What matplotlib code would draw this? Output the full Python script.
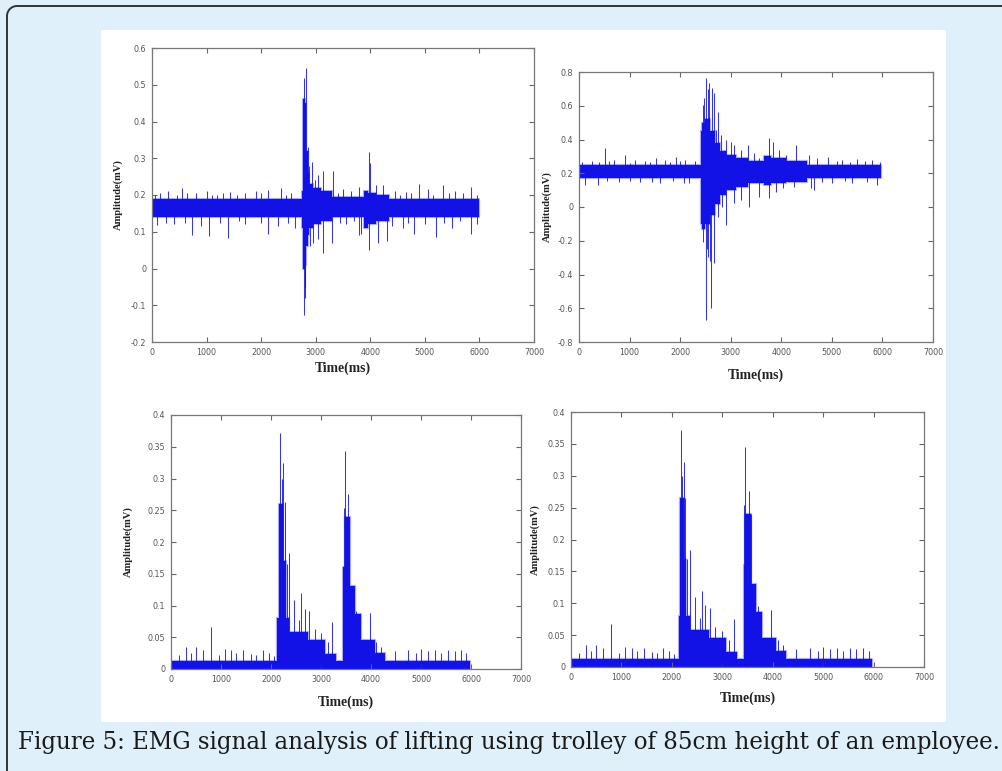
import matplotlib
matplotlib.use("Agg")
import matplotlib.pyplot as plt
from matplotlib.patches import Rectangle, Arc
from matplotlib import font_manager

# ---------------- data ----------------
# Top-left panel
tl_base = 0.165
tl_core_t = [0, 2740, 2775, 2800, 2830, 2850, 2880, 2950, 3100, 3300, 3880, 3960, 4100, 4350, 5995]
tl_core_hi = [0.19, 0.21, 0.46, 0.45, 0.32, 0.26, 0.23, 0.22, 0.21, 0.195, 0.21, 0.205, 0.20, 0.19]
tl_core_lo = [0.14, 0.11, 0.00, 0.01, 0.06, 0.09, 0.11, 0.12, 0.13, 0.14, 0.11, 0.12, 0.13, 0.14]
tl_spike_t = [554, 1426, 2127, 2370, 3790, 4899, 5326, 5844, 4106, 4229, 4655,
              150, 300, 800, 1000, 1200, 1700, 1900, 2550, 3500, 3650, 4450, 5050, 5550, 5700,
              60, 450, 650, 1100, 1300, 1550, 2000, 2450, 3400, 4550, 4750, 5150, 5450, 5950,
              2779, 2828, 2937, 3040, 3132, 3315, 2992, 3985, 4003, 2858, 2880,
              85, 725, 1048, 1395, 2127, 2614, 3802, 5204, 5844, 4808, 4594,
              400, 900, 1700, 2300, 3550, 4400, 5000, 5500, 5950,
              250, 600, 1250, 1600, 2000, 2500, 3450, 3700, 4700, 5350, 5650,
              2779, 2810, 2800, 2888, 3132, 3302, 3040, 3833, 3985, 4137, 4302, 2950]
tl_spike_v = [0.218, 0.209, 0.214, 0.218, 0.223, 0.230, 0.226, 0.223, 0.228, 0.228, 0.209,
              0.205, 0.21, 0.205, 0.21, 0.20, 0.205, 0.21, 0.205, 0.215, 0.21, 0.21, 0.215, 0.21, 0.205,
              0.20, 0.20, 0.205, 0.20, 0.205, 0.20, 0.205, 0.20, 0.205, 0.20, 0.205, 0.20, 0.205, 0.20,
              0.518, 0.545, 0.291, 0.255, 0.264, 0.264, 0.24, 0.318, 0.287, 0.33, 0.28,
              0.118, 0.092, 0.088, 0.082, 0.095, 0.109, 0.091, 0.087, 0.095, 0.095, 0.109,
              0.12, 0.115, 0.12, 0.115, 0.12, 0.115, 0.12, 0.11, 0.12,
              0.125, 0.125, 0.125, 0.13, 0.125, 0.125, 0.125, 0.13, 0.125, 0.125, 0.13,
              -0.127, -0.079, -0.05, 0.06, 0.041, 0.069, 0.08, 0.095, 0.05, 0.07, 0.075, 0.07]

# Top-right panel
tr_base = 0.21
tr_core_t = [0, 2420, 2440, 2500, 2600, 2680, 2780, 2900, 3100, 3350, 3650, 3800, 4100, 4500, 5980]
tr_core_hi = [0.25, 0.45, 0.50, 0.52, 0.45, 0.38, 0.33, 0.31, 0.29, 0.27, 0.30, 0.29, 0.27, 0.25]
tr_core_lo = [0.17, -0.10, -0.13, -0.10, -0.05, 0.02, 0.07, 0.10, 0.12, 0.14, 0.13, 0.14, 0.15, 0.17]
tr_spike_t = [518, 900, 1526, 1921, 250, 700, 1100, 1300, 1700, 2100, 2300,
              60, 400, 600, 1000, 1400, 1800, 2000, 5100, 5350, 5650, 5950,
              2448, 2481, 2514, 2560, 2580, 2633, 2666, 2712, 2745, 2811, 2909, 3008, 3074,
              3206, 3338, 3469, 3568, 3766, 3831, 3963, 4292, 4556, 4918, 5200, 5500, 5800, 4700, 4100,
              110, 374, 2086, 2185, 800, 1200, 1600, 5000, 5400, 5900,
              550, 1000, 1450, 1850, 4800, 5250, 5700,
              2448, 2514, 2560, 2613, 2679, 2530, 2590, 2745, 2909, 3074, 3206, 3370, 3568,
              3766, 3897, 4029, 4260, 4589, 4655, 2820]
tr_spike_v = [0.348, 0.308, 0.288, 0.298, 0.27, 0.28, 0.28, 0.275, 0.28, 0.28, 0.27,
              0.265, 0.265, 0.27, 0.26, 0.265, 0.265, 0.27, 0.27, 0.265, 0.27, 0.265,
              0.605, 0.644, 0.762, 0.70, 0.733, 0.703, 0.674, 0.456, 0.56, 0.427, 0.40, 0.387, 0.368,
              0.338, 0.368, 0.318, 0.288, 0.407, 0.387, 0.338, 0.368, 0.308, 0.298, 0.28, 0.285, 0.28, 0.29, 0.31,
              0.13, 0.13, 0.144, 0.14, 0.15, 0.15, 0.145, 0.14, 0.145, 0.13,
              0.155, 0.155, 0.15, 0.155, 0.15, 0.155, 0.15,
              -0.205, -0.670, -0.294, -0.600, -0.334, -0.25, -0.32, -0.057, -0.107, 0.022, 0.042, 0.002, 0.062,
              0.052, 0.091, 0.111, 0.121, 0.111, 0.101, 0.0]

# Bottom-left panel
bl_base = 0.0
bl_core_t = [0, 2120, 2150, 2240, 2290, 2350, 2740, 3070, 3300, 3440, 3470, 3570, 3670, 3800, 4070, 4270, 5975]
bl_core_hi = [0.012, 0.08, 0.26, 0.17, 0.08, 0.058, 0.045, 0.024, 0.012, 0.16, 0.24, 0.13, 0.087, 0.046, 0.025, 0.013]
bl_spike_t = [307, 507, 640, 793, 1073, 1207, 1440, 1607, 1840, 150, 400, 950, 1300, 1700, 1950, 2050,
              2187, 2240, 2210, 2270, 2353, 2320, 2460, 2607, 2553, 2673, 2753, 2873, 3007, 3220, 3140,
              3473, 3547, 3560, 3453, 3640, 3707, 3773, 3987, 3907, 4107, 4207,
              4473, 4740, 4907, 5007, 5140, 5273, 5407, 5540, 5673, 5807, 5907]
bl_spike_v = [0.035, 0.035, 0.030, 0.066, 0.032, 0.030, 0.030, 0.024, 0.030, 0.022, 0.025, 0.022, 0.025, 0.022, 0.025, 0.020,
              0.372, 0.324, 0.30, 0.263, 0.183, 0.166, 0.108, 0.119, 0.077, 0.095, 0.092, 0.063, 0.056, 0.074, 0.043,
              0.344, 0.275, 0.24, 0.253, 0.119, 0.092, 0.074, 0.088, 0.045, 0.043, 0.035,
              0.028, 0.030, 0.025, 0.032, 0.028, 0.030, 0.025, 0.030, 0.028, 0.030, 0.025]

# Bottom-right panel
br_base = 0.0
br_core_t = [0, 2135, 2160, 2240, 2290, 2350, 2740, 3070, 3300, 3430, 3460, 3560, 3660, 3790, 4060, 4260, 5970]
br_core_hi = [0.012, 0.08, 0.265, 0.17, 0.08, 0.058, 0.045, 0.024, 0.012, 0.16, 0.24, 0.13, 0.087, 0.046, 0.025, 0.013]
br_spike_t = [300, 500, 640, 787, 1070, 1200, 1440, 1600, 1830, 150, 400, 950, 1300, 1700, 1950, 2050,
              2188, 2235, 2210, 2270, 2353, 2300, 2453, 2598, 2550, 2650, 2750, 2849, 3000, 3226, 3140,
              3457, 3530, 3560, 3430, 3630, 3700, 3770, 3973, 3900, 4100, 4200,
              4470, 4730, 4900, 5000, 5130, 5270, 5400, 5530, 5660, 5800, 5900]
br_spike_v = [0.035, 0.035, 0.030, 0.067, 0.032, 0.030, 0.030, 0.024, 0.030, 0.022, 0.025, 0.022, 0.025, 0.022, 0.025, 0.020,
              0.372, 0.322, 0.30, 0.265, 0.183, 0.17, 0.11, 0.119, 0.077, 0.098, 0.092, 0.063, 0.056, 0.076, 0.043,
              0.345, 0.276, 0.24, 0.254, 0.119, 0.095, 0.074, 0.089, 0.045, 0.043, 0.035,
              0.028, 0.030, 0.025, 0.032, 0.028, 0.030, 0.025, 0.030, 0.028, 0.030, 0.025]

x_ticks = [0, 1000, 2000, 3000, 4000, 5000, 6000, 7000]
tl_yticks = [-0.2, -0.1, 0, 0.1, 0.2, 0.3, 0.4, 0.5, 0.6]
tr_yticks = [-0.8, -0.6, -0.4, -0.2, 0, 0.2, 0.4, 0.6, 0.8]
b_yticks = [0, 0.05, 0.1, 0.15, 0.2, 0.25, 0.3, 0.35, 0.4]

caption = "Figure 5: EMG signal analysis of lifting using trolley of 85cm height of an employee."

# ---------------- figure ----------------
W, H = 1002, 771
BLUE = "#1212e6"
fig = plt.figure(figsize=(W / 100, H / 100), dpi=100)
fig.patch.set_facecolor("#dff0fb")

# background overlay in pixel coordinates (y measured downward from the top)
bg = fig.add_axes([0, 0, 1, 1], zorder=-5)
bg.set_xlim(0, W)
bg.set_ylim(H, 0)
bg.axis("off")
R = 10
EDGE = "#333333"
bg.plot([7, 7], [6 + R, H + 5], color=EDGE, linewidth=1.4, solid_capstyle="butt")
bg.plot([7 + R, W + 5], [6, 6], color=EDGE, linewidth=1.4, solid_capstyle="butt")
bg.add_patch(Arc((7 + R, 6 + R), 2 * R, 2 * R, theta1=180, theta2=270, color=EDGE, linewidth=1.4))
bg.add_patch(Rectangle((101, 30), 845, 692, facecolor="white", edgecolor="none"))


def px_axes(x0, y0, x1, y1):
    return fig.add_axes([x0 / W, 1 - y1 / H, (x1 - x0) / W, (y1 - y0) / H])


def draw(ax, core_t, core_hi, core_lo, base, sp_t, sp_v, ylim, yticks, ylab_x, xlab_y):
    ax.fill_between(core_t, core_lo + [core_lo[-1]], core_hi + [core_hi[-1]], step="post",
                    facecolor=BLUE, edgecolor=(0.07, 0.07, 0.9, 0.35), linewidth=1.6)
    ax.vlines(sp_t, base, sp_v, color=BLUE, linewidth=0.75, alpha=0.85)
    ax.set_xlim(0, 7000)
    ax.set_ylim(*ylim)
    ax.set_xticks(x_ticks)
    ax.set_xticklabels([f"{v:g}" for v in x_ticks])
    ax.set_yticks(yticks)
    ax.set_yticklabels([f"{v:g}" for v in yticks])
    ax.tick_params(direction="in", top=True, right=True, length=3.5, width=0.8,
                   color="#666666", labelsize=5.8, labelcolor="#555555", pad=4)
    for s in ax.spines.values():
        s.set_color("#777777")
        s.set_linewidth(0.9)
    ax.set_xlabel("Time(ms)", fontfamily="Liberation Serif", fontweight="bold", fontsize=9.8,
                  color="#222222")
    ax.set_ylabel("Amplitude(mV)", fontfamily="Liberation Serif", fontweight="bold", fontsize=7.6,
                  color="#222222")
    ax.xaxis.set_label_coords(0.5, xlab_y)
    ax.yaxis.set_label_coords(ylab_x, 0.5)
    ax.xaxis.label.set_va("center")
    ax.yaxis.label.set_va("center")


ax1 = px_axes(152, 48, 534, 342)
draw(ax1, tl_core_t, tl_core_hi, tl_core_lo, tl_base, tl_spike_t, tl_spike_v,
     (-0.2, 0.6), tl_yticks, -0.089, -0.088)

ax2 = px_axes(579, 72, 933, 342)
draw(ax2, tr_core_t, tr_core_hi, tr_core_lo, tr_base, tr_spike_t, tr_spike_v,
     (-0.8, 0.8), tr_yticks, -0.091, -0.122)

ax3 = px_axes(171, 415, 521, 669)
draw(ax3, bl_core_t, bl_core_hi, [0.0] * len(bl_core_hi), bl_base, bl_spike_t, bl_spike_v,
     (0, 0.4), b_yticks, -0.122, -0.129)

ax4 = px_axes(571, 412, 924, 667)
draw(ax4, br_core_t, br_core_hi, [0.0] * len(br_core_hi), br_base, br_spike_t, br_spike_v,
     (0, 0.4), b_yticks, -0.102, -0.122)

# caption: prefer a condensed serif if available, fit width to the reference span
cap_family = "Liberation Serif"
cap_stretch = "normal"
try:
    fp = font_manager.FontProperties(family="DejaVu Serif", stretch="condensed")
    path = font_manager.findfont(fp, fallback_to_default=False)
    if "Condensed" in path:
        cap_family, cap_stretch = "DejaVu Serif", "condensed"
except Exception:
    pass

cap = fig.text(509 / W, 1 - 742 / H, caption, ha="center", va="center",
               fontfamily=cap_family, fontstretch=cap_stretch, fontsize=18, color="#1a1a1a")
renderer = fig.canvas.get_renderer()
wpx = cap.get_window_extent(renderer).width
cap.set_fontsize(18 * 982.0 / wpx)

fig.savefig("out.png", dpi=100, facecolor=fig.get_facecolor())
